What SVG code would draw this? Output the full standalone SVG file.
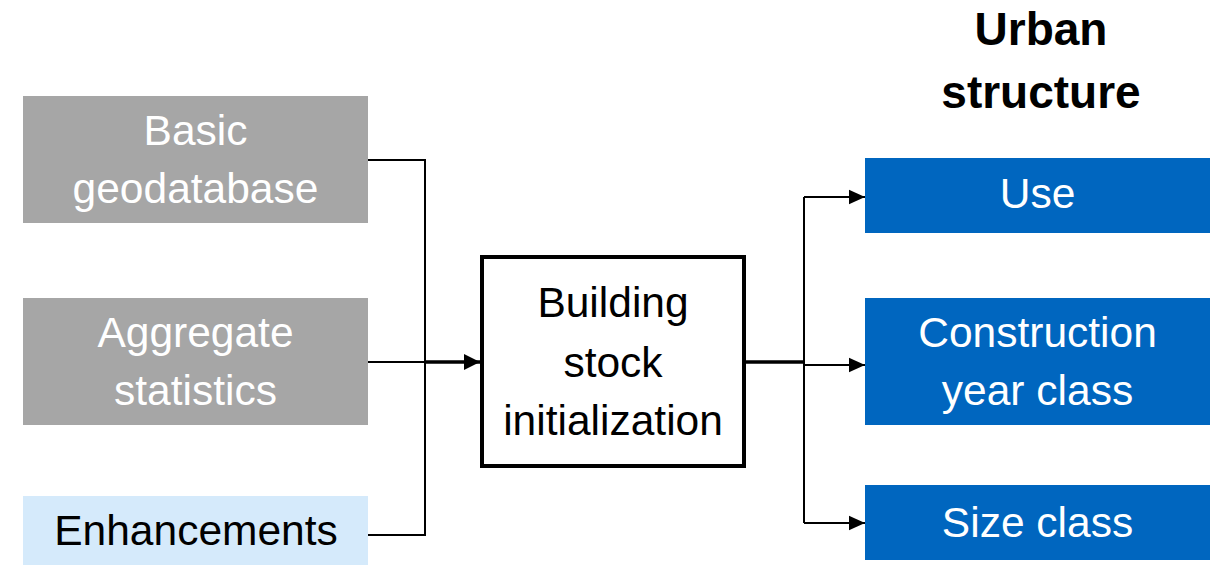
<svg xmlns="http://www.w3.org/2000/svg" width="1220" height="565" viewBox="0 0 1220 565">
<style>
  text { font-family: "Liberation Sans", Arial, sans-serif; font-size: 42.5px; text-anchor: middle; }
  .gray { fill: #A6A6A6; }
  .blue { fill: #0066BF; }
  .light { fill: #D5EAFB; }
  .wt { fill: #FFFFFF; }
  .bt { fill: #000000; }
  .title { font-weight: bold; font-size: 46px; fill: #000; }
  .conn { fill: none; stroke: #000; stroke-width: 2; }
  .thick { fill: none; stroke: #000; stroke-width: 3.5; }
</style>
<defs>
  <marker id="arrow" viewBox="0 0 10 10" refX="10" refY="5" markerWidth="8" markerHeight="8" orient="auto" markerUnits="strokeWidth">
    <path d="M0,0.5 L10,5 L0,9.5 z" fill="#000"/>
  </marker>
  <marker id="arrowT" viewBox="0 0 10 10" refX="10" refY="5" markerWidth="4.6" markerHeight="4.6" orient="auto" markerUnits="strokeWidth">
    <path d="M0,0 L10,5 L0,10 z" fill="#000"/>
  </marker>
</defs>
<rect width="1220" height="565" fill="#FFFFFF"/>

<g id="title">
  <text class="title" x="1041" y="45">Urban</text>
  <text class="title" x="1041" y="108">structure</text>
</g>

<g id="connectors">
  <path class="conn" d="M368,160 H425 V535 H368"/>
  <path class="conn" d="M368,362 H425"/>
  <path class="thick" d="M424,362 H480" marker-end="url(#arrowT)"/>
  <path class="thick" d="M745,362 H804"/>
  <path class="conn" d="M804,197 V523"/>
  <path class="conn" d="M804,197 H865" marker-end="url(#arrow)"/>
  <path class="conn" d="M804,365 H865" marker-end="url(#arrow)"/>
  <path class="conn" d="M804,523 H865" marker-end="url(#arrow)"/>
</g>

<g id="basic-geodatabase">
  <rect class="gray" x="23" y="96" width="345" height="127"/>
  <text class="wt" x="195.5" y="145">Basic</text>
  <text class="wt" x="195.5" y="203">geodatabase</text>
</g>

<g id="aggregate-statistics">
  <rect class="gray" x="23" y="298" width="345" height="127"/>
  <text class="wt" x="195.5" y="347">Aggregate</text>
  <text class="wt" x="195.5" y="405">statistics</text>
</g>

<g id="enhancements">
  <rect class="light" x="23" y="496" width="345" height="69"/>
  <text class="bt" x="196" y="545">Enhancements</text>
</g>

<g id="building-stock-initialization">
  <rect x="482" y="257" width="262" height="209" fill="#FFFFFF" stroke="#000" stroke-width="4"/>
  <text class="bt" x="613" y="317">Building</text>
  <text class="bt" x="613" y="377">stock</text>
  <text class="bt" x="613" y="435">initialization</text>
</g>

<g id="use">
  <rect class="blue" x="865" y="158" width="345" height="75"/>
  <text class="wt" x="1037.5" y="208">Use</text>
</g>

<g id="construction-year-class">
  <rect class="blue" x="865" y="298" width="345" height="127"/>
  <text class="wt" x="1037.5" y="347">Construction</text>
  <text class="wt" x="1037.5" y="405">year class</text>
</g>

<g id="size-class">
  <rect class="blue" x="865" y="485" width="345" height="75"/>
  <text class="wt" x="1037.5" y="537">Size class</text>
</g>
</svg>
